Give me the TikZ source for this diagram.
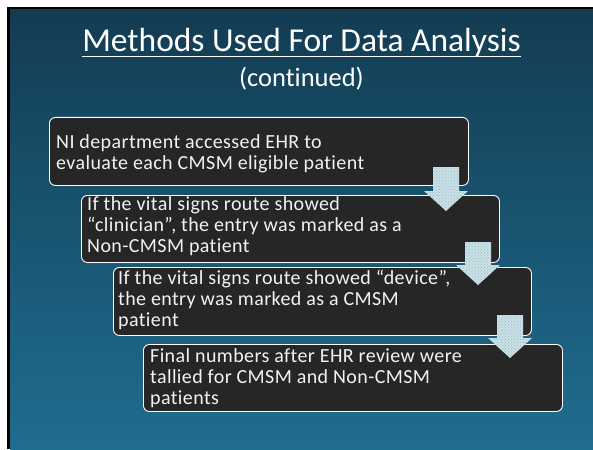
\documentclass[tikz,border=0pt]{standalone}
\usepackage{fontspec}
\setmainfont{Carlito}[Ligatures=NoCommon]
\newfontfamily\boxfont[LetterSpace=2,Ligatures=NoCommon]{Carlito}
\usetikzlibrary{patterns,calc}
\definecolor{boxfill}{HTML}{262626}
\definecolor{slidetop}{HTML}{133C53}
\definecolor{slidebot}{HTML}{1F6D8F}
\definecolor{arrowfill}{HTML}{C9E0E6}
\definecolor{arrowdot}{HTML}{9CBCC6}
\definecolor{txt}{HTML}{F2F2F2}
\tikzset{
  box/.style={draw=white, line width=0.9pt, fill=boxfill, rounded corners=6pt, anchor=north west, inner sep=0pt},
  boxtext/.style={anchor=north west, align=left, text=txt, inner sep=0pt, font=\boxfont\fontsize{20}{21}\selectfont},
  downarrow/.style={fill=arrowfill},
  arrowtex/.style={pattern=crosshatch dots, pattern color=arrowdot}
}
\newcommand{\blockarrow}[4]{% cx, top, headY, tip
  \fill[downarrow] (#1-13,#2) -- (#1+13,#2) -- (#1+13,#3) -- (#1+22,#3) -- (#1,#4) -- (#1-22,#3) -- (#1-13,#3) -- cycle;
  \fill[arrowtex] (#1-13,#2) -- (#1+13,#2) -- (#1+13,#3) -- (#1+22,#3) -- (#1,#4) -- (#1-22,#3) -- (#1-13,#3) -- cycle;
}
\newcommand{\fl}{\rule{0pt}{14pt}}
\begin{document}
\begin{tikzpicture}[x=1pt,y=-1pt]
\useasboundingbox (0,0) rectangle (593,449);
\fill[white] (0,0) rectangle (593,449);
\fill[black] (7,7) rectangle (593,449);
\shade[top color=slidetop, bottom color=slidebot] (10,10) rectangle (593,449);
% title
\node[anchor=base, text=white, inner sep=0pt, font=\fontsize{33.5}{38}\selectfont] (title) at (301.5,52) {Methods Used For Data Analysis};
\draw[white, line width=1.6pt] ($(title.base west)+(0,4.5)$) -- ($(title.base east)+(0,4.5)$);
\node[anchor=base, text=white, inner sep=0pt, font=\fontsize{26.5}{30}\selectfont] (sub) at (301.5,87) {(continued)};
% boxes
\node[box, minimum width=419pt, minimum height=68pt] (b1) at (49,117) {};
\node[box, minimum width=418pt, minimum height=67pt] (b2) at (81,195) {};
\node[box, minimum width=418pt, minimum height=68pt] (b3) at (113,267) {};
\node[box, minimum width=419pt, minimum height=67pt] (b4) at (143,344) {};
\node[boxtext] (t1) at (56,134) {\fl NI department accessed EHR to\\evaluate each CMSM eligible patient};
\node[boxtext] (t2) at (87,196) {\fl If the vital signs route showed\\“clinician”, the entry was marked as a\\Non-CMSM patient};
\node[boxtext] (t3) at (118,270) {\fl If the vital signs route showed “device”,\\the entry was marked as a CMSM\\patient};
\node[boxtext] (t4) at (150,348) {\fl Final numbers after EHR review were\\tallied for CMSM and Non-CMSM\\patients};
% arrows
\blockarrow{446}{167}{191}{211}
\blockarrow{478}{242}{265}{285}
\blockarrow{510}{315}{338}{358}
\end{tikzpicture}
\end{document}
